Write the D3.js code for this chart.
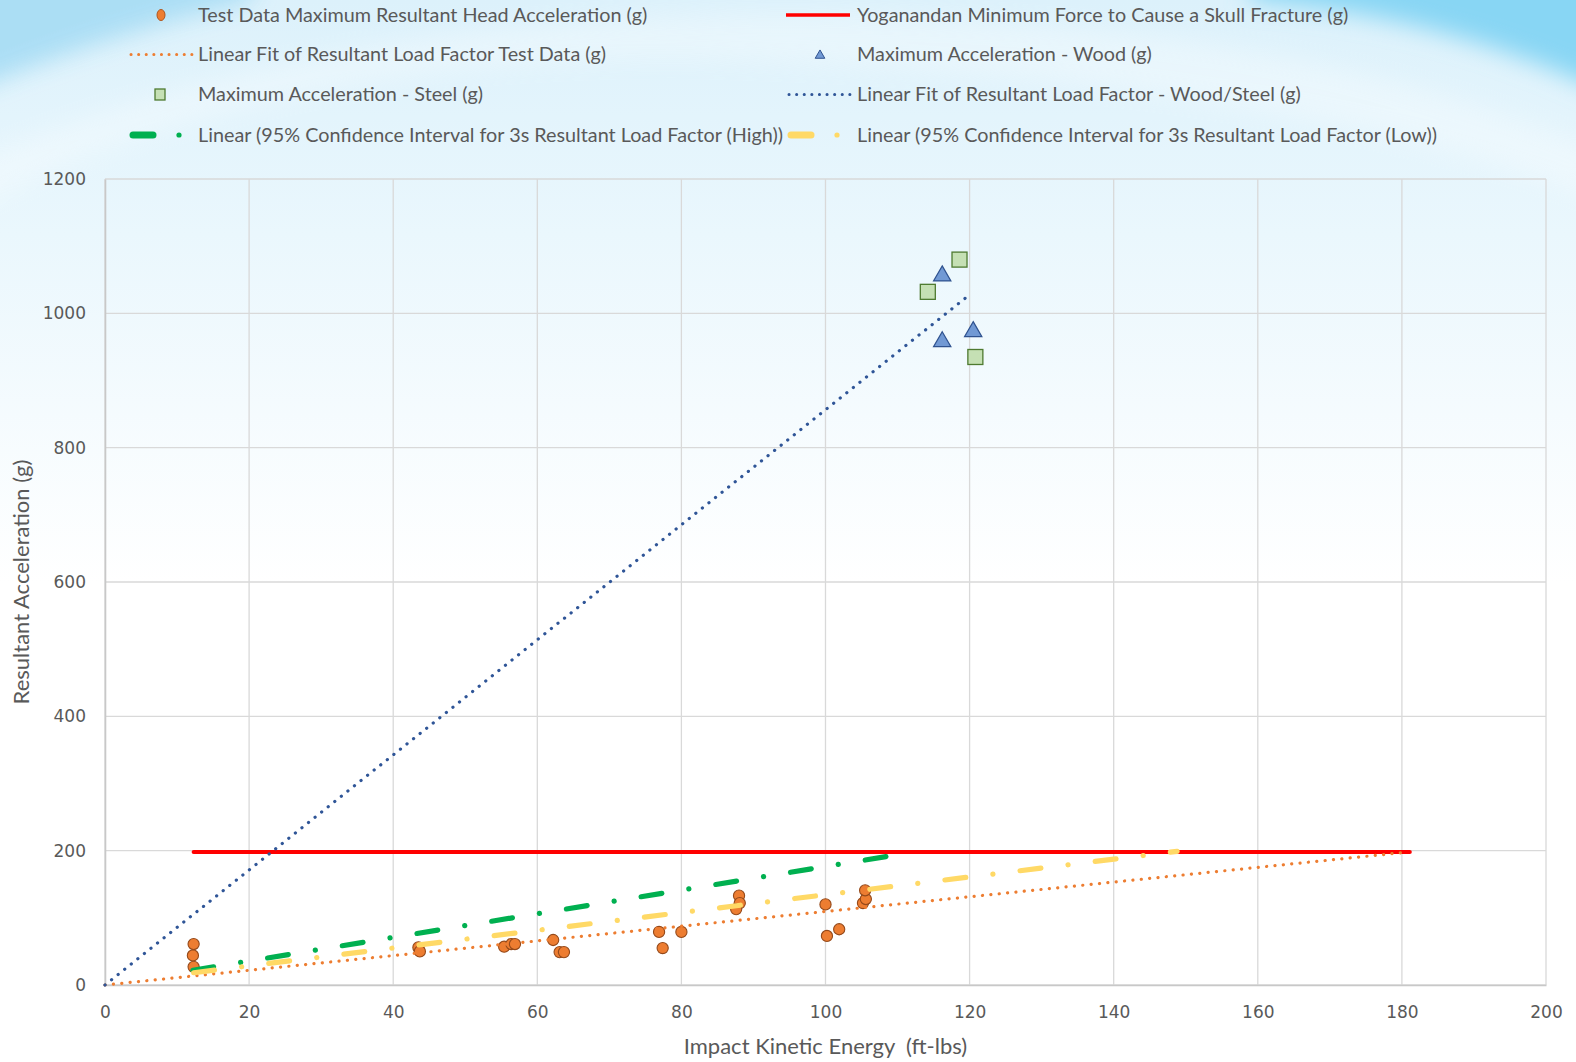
<!DOCTYPE html>
<html><head><meta charset="utf-8">
<script src="https://cdn.jsdelivr.net/npm/d3@7"></script>
<style>
html,body{margin:0;padding:0;background:#fff;}
svg{display:block;}
</style></head><body>
<svg id="chart" width="1576" height="1062"></svg>
<script>
// ---------- data ----------
const testX = [12.3, 12.2, 12.3, 43.5, 43.7, 55.4, 56.4, 56.9, 62.2, 63.1, 63.7, 76.9, 77.4, 80.0, 88.0, 88.1, 87.6, 100.0, 100.2, 101.9, 105.2, 105.6, 105.5];
const testY = [61, 44, 27, 56, 50, 57, 61, 61, 67, 49, 49, 79, 55, 79, 133, 122, 113, 120, 73, 83, 122, 128, 141];
const woodX = [116.2, 116.2, 120.5];
const woodY = [1058, 960, 975];
const steelX = [114.2, 118.6, 120.8];
const steelY = [1032, 1080, 935];
const yogX = [12.3, 181.1];
const yogY = [198, 198];
const fitTestX = [0, 180];
const fitTestY = [0, 197];
const fitWSX = [0, 119.8];
const fitWSY = [0, 1026];
const ciHighX = [12.2, 112];
const ciHighY = [22, 197.5];
const ciLowX = [12.3, 148.8];
const ciLowY = [18.3, 199];
const xTicks = [0, 20, 40, 60, 80, 100, 120, 140, 160, 180, 200];
const yTicks = [0, 200, 400, 600, 800, 1000, 1200];
const seriesNames = [
  "Test Data Maximum Resultant Head Acceleration (g)",
  "Yoganandan Minimum Force to Cause a Skull Fracture (g)",
  "Linear Fit of Resultant Load Factor Test Data (g)",
  "Maximum Acceleration - Wood (g)",
  "Maximum Acceleration - Steel (g)",
  "Linear Fit of Resultant Load Factor - Wood/Steel (g)",
  "Linear (95% Confidence Interval for 3s Resultant Load Factor (High))",
  "Linear (95% Confidence Interval for 3s Resultant Load Factor (Low))"
];
const xTitle = "Impact Kinetic Energy  (ft-lbs)";
const yTitle = "Resultant Acceleration (g)";

// ---------- setup ----------
const W = 1576, H = 1062;
const svg = d3.select("#chart");
const x = d3.scaleLinear().domain([0, 200]).range([105, 1546]);
const y = d3.scaleLinear().domain([0, 1200]).range([985, 179]);
const zip = (xs, ys) => xs.map((v, i) => [v, ys[i]]);
const line = d3.line().x(d => x(d[0])).y(d => y(d[1]));

const defs = svg.append("defs");
const bg = defs.append("linearGradient").attr("id", "bgGrad").attr("x1", 0).attr("y1", 0).attr("x2", 0).attr("y2", 1);
bg.append("stop").attr("offset", "0").attr("stop-color", "#dcf1fb");
bg.append("stop").attr("offset", "0.22").attr("stop-color", "#eaf7fd");
bg.append("stop").attr("offset", "0.55").attr("stop-color", "#ffffff");
bg.append("stop").attr("offset", "1").attr("stop-color", "#ffffff");
const blur = defs.append("filter").attr("id", "blur").attr("x", "-50%").attr("y", "-50%").attr("width", "200%").attr("height", "200%");
blur.append("feGaussianBlur").attr("stdDeviation", 12);

svg.append("rect").attr("width", W).attr("height", H).attr("fill", "url(#bgGrad)");
// soft sky-blue waves in the corners
svg.append("path").attr("d", "M-40,-40 L260,-40 L250,0 C170,20 80,45 -40,95 Z").attr("fill", "#a6dcf4").attr("filter", "url(#blur)").attr("opacity", 0.9);
svg.append("path").attr("d", "M1250,-40 L1620,-40 L1620,100 C1520,50 1400,12 1250,0 Z").attr("fill", "#88d6f4").attr("filter", "url(#blur)");
svg.append("path").attr("d", "M-50,170 C300,20 700,-10 1100,30 C1300,50 1450,90 1600,150 L1600,200 C1400,120 1100,70 700,60 C400,55 150,110 -50,220 Z").attr("fill", "#ffffff").attr("opacity", 0.3).attr("filter", "url(#blur)");

// ---------- grid ----------
const grid = svg.append("g");
grid.selectAll("line.v").data(xTicks).join("line")
  .attr("x1", d => x(d)).attr("x2", d => x(d)).attr("y1", y(0)).attr("y2", y(1200))
  .attr("stroke", "#d9d9d9").attr("stroke-width", 1.3);
grid.selectAll("line.h").data(yTicks).join("line")
  .attr("x1", x(0)).attr("x2", x(200)).attr("y1", d => y(d)).attr("y2", d => y(d))
  .attr("stroke", "#d9d9d9").attr("stroke-width", 1.3);

// axes
const tickFont = "'DejaVu Sans', sans-serif";
const xAxis = svg.append("g").attr("transform", `translate(0,${y(0)})`)
  .call(d3.axisBottom(x).tickValues(xTicks).tickSize(0).tickPadding(21).tickFormat(d3.format("d")));
const yAxis = svg.append("g").attr("transform", `translate(${x(0)},0)`)
  .call(d3.axisLeft(y).tickValues(yTicks).tickSize(0).tickPadding(19).tickFormat(d3.format("d")));
[xAxis, yAxis].forEach(a => {
  a.select(".domain").attr("stroke", "#c8c8c8").attr("stroke-width", 1.6);
  a.selectAll("text").attr("fill", "#595959").style("font-family", tickFont).style("font-size", "17px");
});

// ---------- series ----------
// red line (Yoganandan)
svg.append("path").datum(zip(yogX, yogY)).attr("d", line)
  .attr("fill", "none").attr("stroke", "#ff0000").attr("stroke-width", 4).attr("stroke-linecap", "round");

// test data circles
svg.append("g").selectAll("circle").data(zip(testX, testY)).join("circle")
  .attr("cx", d => x(d[0])).attr("cy", d => y(d[1])).attr("r", 5.6)
  .attr("fill", "#ed7d31").attr("stroke", "#94491a").attr("stroke-width", 1.1);

// wood triangles
const tri = d3.symbol().type(d3.symbolTriangle).size(130);
svg.append("g").selectAll("path").data(zip(woodX, woodY)).join("path")
  .attr("d", tri).attr("transform", d => `translate(${x(d[0])},${y(d[1]) + 1.5})`)
  .attr("fill", "#7199d4").attr("stroke", "#2f528f").attr("stroke-width", 1.2);

// steel squares
svg.append("g").selectAll("rect").data(zip(steelX, steelY)).join("rect")
  .attr("x", d => x(d[0]) - 7.5).attr("y", d => y(d[1]) - 7.5).attr("width", 15).attr("height", 15)
  .attr("fill", "#c5e0b4").attr("stroke", "#4e7a30").attr("stroke-width", 1.3);

// trend lines
const dotted = (sel, color, w) => sel.attr("fill", "none").attr("stroke", color).attr("stroke-width", w)
  .attr("stroke-linecap", "round").attr("stroke-dasharray", "0.1,8.3");
dotted(svg.append("path").datum(zip(fitTestX, fitTestY)).attr("d", line), "#ed7d31", 3.2);
dotted(svg.append("path").datum(zip(fitWSX, fitWSY)).attr("d", line), "#2f5597", 3.2);

const dashDot = (sel, color) => sel.attr("fill", "none").attr("stroke", color).attr("stroke-width", 5.2)
  .attr("stroke-linecap", "round").attr("stroke-dasharray", "21,27.3,0.1,27.3");
dashDot(svg.append("path").datum(zip(ciHighX, ciHighY)).attr("d", line), "#00b050");
dashDot(svg.append("path").datum(zip(ciLowX, ciLowY)).attr("d", line), "#ffd966");

// ---------- titles ----------
const titleFont = "Lato, 'Open Sans', sans-serif";
svg.append("text").attr("x", (x(0) + x(200)) / 2).attr("y", 1054).attr("text-anchor", "middle")
  .attr("fill", "#595959").style("font-family", titleFont).style("font-size", "22px").attr("xml:space", "preserve").text(xTitle);
svg.append("text").attr("transform", `translate(29,${(y(0) + y(1200)) / 2}) rotate(-90)`).attr("text-anchor", "middle")
  .attr("fill", "#595959").style("font-family", titleFont).style("font-size", "22px").text(yTitle);

// ---------- legend ----------
const legX = [131, 789];
const textX = [198, 857];
const rowY = [15, 54.5, 94.5, 135];
const leg = svg.append("g");
seriesNames.forEach((name, i) => {
  const c = i % 2, r = Math.floor(i / 2);
  const g = leg.append("g").attr("transform", `translate(0,${rowY[r]})`);
  const sx = legX[c];
  g.append("text").attr("x", textX[c]).attr("y", 0).attr("dy", "0.35em")
    .attr("fill", "#595959").style("font-family", titleFont).style("font-size", "19.8px").text(name);
  if (i === 0) g.append("ellipse").attr("cx", sx + 30).attr("cy", 0).attr("rx", 4).attr("ry", 5.5).attr("fill", "#ed7d31").attr("stroke", "#b0561e");
  if (i === 1) g.append("line").attr("x1", sx - 3).attr("x2", sx + 61).attr("y1", 0).attr("y2", 0).attr("stroke", "#ff0000").attr("stroke-width", 3.5);
  if (i === 2) dotted(g.append("line").attr("x1", sx).attr("x2", sx + 62).attr("y1", 0).attr("y2", 0), "#ed7d31", 3).attr("stroke-dasharray", "0.1,7.5");
  if (i === 3) g.append("path").attr("d", d3.symbol().type(d3.symbolTriangle).size(40)).attr("transform", `translate(${sx + 31},1)`).attr("fill", "#7199d4").attr("stroke", "#2f528f");
  if (i === 4) g.append("rect").attr("x", sx + 24).attr("y", -5.5).attr("width", 10).attr("height", 11).attr("fill", "#c5e0b4").attr("stroke", "#4e7a30").attr("stroke-width", 1.3);
  if (i === 5) dotted(g.append("line").attr("x1", sx).attr("x2", sx + 62).attr("y1", 0).attr("y2", 0), "#2f5597", 3).attr("stroke-dasharray", "0.1,7.5");
  if (i === 6 || i === 7) {
    const col = i === 6 ? "#00b050" : "#ffd966";
    g.append("line").attr("x1", sx + 2).attr("x2", sx + 22).attr("y1", 0).attr("y2", 0).attr("stroke", col).attr("stroke-width", 7).attr("stroke-linecap", "round");
    g.append("circle").attr("cx", sx + 48).attr("cy", 0).attr("r", 2.6).attr("fill", col);
  }
});
</script>
</body></html>
